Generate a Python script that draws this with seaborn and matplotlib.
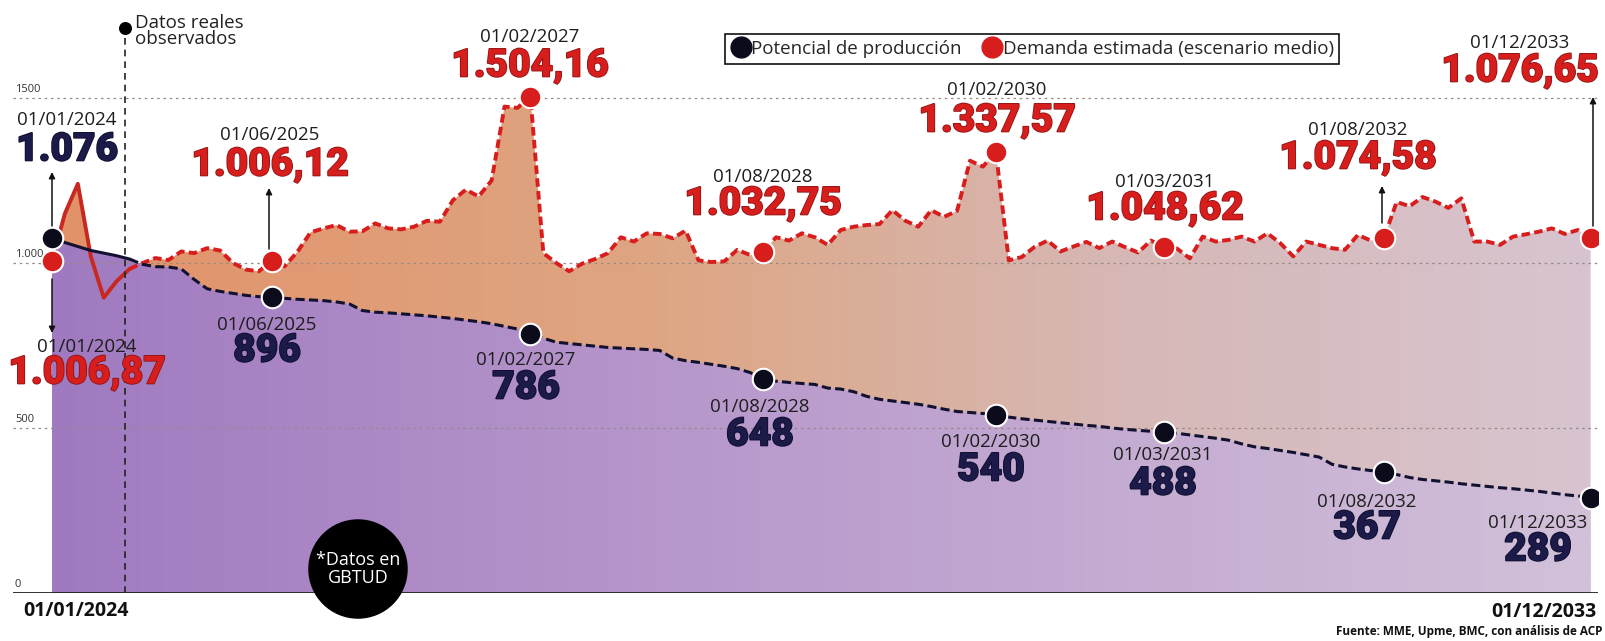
import numpy as np
import pandas as pd
import matplotlib.pyplot as plt
import matplotlib.patheffects as pe
import seaborn as sns
from matplotlib.lines import Line2D

# --- data (GBTUD, monthly) ---
fechas = pd.date_range('2024-01-01', '2033-12-01', freq='MS')

potencial = [
    1076, 1062, 1050, 1038, 1030, 1022, 1012, 996, 989, 988, 982, 950,
    922, 914, 908, 902, 898, 896, 893, 890, 888, 886, 882, 876,
    856, 851, 849, 846, 843, 840, 836, 832, 827, 822, 816, 808,
    800, 786, 772, 760, 756, 752, 748, 744, 742, 740, 738, 735,
    712, 704, 699, 693, 687, 680, 668, 648, 642, 638, 635, 632,
    621, 618, 610, 596, 587, 582, 577, 572, 565, 557, 550, 547,
    544, 540, 533, 528, 524, 520, 516, 512, 508, 505, 500, 496,
    493, 490, 488, 484, 479, 474, 469, 463, 452, 443, 438, 432,
    426, 419, 412, 390, 382, 376, 371, 367, 359, 350, 344, 340,
    336, 331, 327, 323, 319, 316, 312, 308, 303, 298, 294, 289,
]

demanda = [
    1006.87, 1150, 1240, 1020, 895, 945, 982, 1000, 1015, 1009, 1035, 1030,
    1045, 1038, 1000, 980, 975, 1006.12, 990, 1035, 1093, 1105, 1115, 1095,
    1096, 1120, 1105, 1102, 1110, 1128, 1125, 1190, 1222, 1202, 1250, 1474,
    1470, 1504.16, 1030, 1000, 975, 998, 1012, 1030, 1078, 1065, 1090, 1088,
    1075, 1098, 1008, 1003, 1005, 1040, 1024, 1032.75, 1078, 1068, 1090, 1078,
    1055, 1100, 1110, 1115, 1118, 1160, 1128, 1110, 1160, 1140, 1158, 1310,
    1292, 1337.57, 1008, 1018, 1049, 1068, 1035, 1050, 1064, 1045, 1065, 1048,
    1032, 1068, 1048.62, 1044, 1014, 1080, 1065, 1070, 1080, 1065, 1090, 1060,
    1020, 1065, 1055, 1045, 1040, 1085, 1068, 1074.58, 1185, 1172, 1200, 1186,
    1167, 1196, 1065, 1065, 1055, 1080, 1087, 1095, 1105, 1088, 1100, 1076.65,
]

fechas_clave = ['2024-01-01', '2025-06-01', '2027-02-01', '2028-08-01',
                '2030-02-01', '2031-03-01', '2032-08-01', '2033-12-01']
ticks_y = [0, 500, 1000, 1500]
ticks_y_txt = ['0', '500', '1.000', '1500']
fin_observado = 5.65   # month index of "Datos reales observados" marker

df = pd.DataFrame({'mes': np.arange(len(fechas)), 'fecha': fechas,
                   'potencial': potencial, 'demanda': demanda})
clave = df[df['fecha'].isin(pd.to_datetime(fechas_clave))]

# --- style ---
sns.set_theme(style='white')
plt.rcParams['font.family'] = ['Open Sans', 'DejaVu Sans']

W, H = 1605, 641
ROJO = '#d81d1d'
NAVY = '#1b1a48'
fig = plt.figure(figsize=(W / 100, H / 100), dpi=100)
fig.patch.set_facecolor('white')
ax = fig.add_axes([13 / W, 48 / H, 1585 / W, 593 / H])
XMIN, XMAX, YMAX = -3.016, 119.57, 1797


def gradient_fill(y_top, stops, z):
    poly = ax.fill_between(df['mes'], 0, y_top, facecolor='none', edgecolor='none')
    pos = np.linspace(0, 1, 300)
    st = np.array([s[0] for s in stops])
    rgb = np.array([s[1] for s in stops]) / 255
    img = np.stack([np.interp(pos, st, rgb[:, k]) for k in range(3)], axis=-1)[None]
    im = ax.imshow(img, extent=[0, len(df) - 1, 0, YMAX], aspect='auto',
                   origin='lower', zorder=z, interpolation='bilinear')
    im.set_clip_path(poly.get_paths()[0], transform=ax.transData)


gradient_fill(df['demanda'], [(0, (226, 146, 104)), (0.4, (222, 166, 132)),
                              (0.7, (214, 184, 182)), (1, (216, 196, 208))], 1)
gradient_fill(df['potencial'], [(0, (160, 122, 192)), (0.5, (188, 158, 206)),
                                (1, (210, 193, 217))], 2)

for t in ticks_y[1:]:
    ax.axhline(t, color='#978a84', lw=0.9, ls=(0, (2, 3)), zorder=3)
ax.axhline(0, color='#222222', lw=1.3, zorder=6)
for t, s in zip(ticks_y, ticks_y_txt):
    ax.text(XMIN + 0.15, t + 10, s, fontsize=8, va='bottom', ha='left',
            color='#333333', zorder=7)

# observed vs projected segments
obs = df[df['mes'] <= 6]
proy = df[df['mes'] >= 6]
sns.lineplot(data=obs, x='mes', y='demanda', color='#c8281f', lw=2.8, ax=ax,
             zorder=5, legend=False)
sns.lineplot(data=proy, x='mes', y='demanda', color=ROJO, lw=2.8,
             linestyle=(0, (2.2, 1.1)), ax=ax, zorder=5, legend=False)
sns.lineplot(data=obs, x='mes', y='potencial', color='#121230', lw=2.2, ax=ax,
             zorder=5, legend=False)
sns.lineplot(data=proy, x='mes', y='potencial', color='#121230', lw=2.2,
             linestyle=(0, (3, 1.4)), ax=ax, zorder=5, legend=False)

sns.scatterplot(data=clave, x='mes', y='demanda', color=ROJO, s=240,
                edgecolor='white', linewidth=1.5, ax=ax, zorder=8, legend=False)
sns.scatterplot(data=clave, x='mes', y='potencial', color='#0b0b1c', s=240,
                edgecolor='white', linewidth=1.5, ax=ax, zorder=8, legend=False)

# "Datos reales observados"
ax.plot([fin_observado, fin_observado], [0, 1712], color='#222222', lw=1.2,
        ls=(0, (4, 3)), zorder=6)
ax.scatter([fin_observado], [1712], s=70, color='black', zorder=8)
ax.set_xlim(XMIN, XMAX)
ax.set_ylim(0, YMAX)
ax.axis('off')


def fig_txt(px, py, s, **kw):
    fig.text(px / W, 1 - py / H, s, ha=kw.pop('ha', 'center'),
             va=kw.pop('va', 'center'), **kw)


fig_txt(135, 31, 'Datos reales\nobservados', fontsize=13.5, ha='left',
        linespacing=0.9, color='#222222')


def es(v, dec):
    s = f'{v:,.{dec}f}'
    return s.replace(',', 'X').replace('.', ',').replace('X', '.')


# label placements in figure pixels: (center x, date y, value y)
pos_rojo = [(87, 347, 373), (270, 135, 165), (530, 37, 66), (763, 177, 204),
            (997, 90, 121), (1165, 182, 209), (1358, 130, 158), (1520, 43, 71)]
pos_navy = [(67, 120, 150), (267, 325, 351), (526, 360, 388), (760, 407, 435),
            (991, 442, 470), (1163, 455, 484), (1367, 502, 528), (1538, 523, 550)]

edge_r = [pe.withStroke(linewidth=1.2, foreground='#8c1414')]
edge_n = [pe.withStroke(linewidth=1.2, foreground='#0d0c2a')]
for (cx, yd, yv), (_, r) in zip(pos_rojo, clave.iterrows()):
    fig_txt(cx, yd, r['fecha'].strftime('%d/%m/%Y'), fontsize=13.5, color='#1e1e1e')
    fig_txt(cx, yv, es(r['demanda'], 2), fontsize=28, color=ROJO,
            family=['Roboto', 'DejaVu Sans'], weight='black', path_effects=edge_r)
for (cx, yd, yv), (_, r) in zip(pos_navy, clave.iterrows()):
    fig_txt(cx, yd, r['fecha'].strftime('%d/%m/%Y'), fontsize=13.5, color='#1e1e1e')
    fig_txt(cx, yv, es(r['potencial'], 0), fontsize=28, color=NAVY,
            family=['Roboto', 'DejaVu Sans'], weight='black', path_effects=edge_n)

# arrows (figure pixels)
for x0, y0, y1 in [(52, 226, 172), (52, 279, 333), (269, 249, 188),
                   (1382, 223, 186), (1593, 226, 97)]:
    ax.annotate('', xy=(x0, H - y1), xytext=(x0, H - y0), xycoords='figure pixels',
                textcoords='figure pixels', zorder=9,
                arrowprops=dict(arrowstyle='-|>', color='#111111', lw=1.1,
                                mutation_scale=9, shrinkA=0, shrinkB=0))

# legend
hs = [Line2D([], [], ls='none', marker='o', ms=15, color='#0b0b1c'),
      Line2D([], [], ls='none', marker='o', ms=15, color=ROJO)]
leg = fig.legend(hs, ['Potencial de producción', 'Demanda estimada (escenario medio)'],
                 loc='center', bbox_to_anchor=(1032 / W, 1 - 49 / H), ncol=2,
                 fontsize=13.5, frameon=True, fancybox=False, framealpha=1,
                 edgecolor='#111111', handletextpad=0.0, columnspacing=1.1,
                 borderpad=0.3, handlelength=1.1, borderaxespad=0)
leg.get_frame().set_linewidth(1.2)

# circle note
fig_txt(358, 569, '*Datos en\nGBTUD', fontsize=13, color='white', linespacing=1.0,
        bbox=dict(boxstyle='circle,pad=0.38', fc='black', ec='black'))

# bottom labels
fig_txt(23, 611, fechas[0].strftime('%d/%m/%Y'), fontsize=14, weight='bold',
        ha='left', color='#111111')
fig_txt(1596, 612, fechas[-1].strftime('%d/%m/%Y'), fontsize=14, weight='bold',
        ha='right', color='#111111')
fig_txt(1603, 632, 'Fuente: MME, Upme, BMC, con análisis de ACP', fontsize=8.5,
        weight='bold', ha='right', color='#111111')

fig.savefig('out.png', dpi=100)
